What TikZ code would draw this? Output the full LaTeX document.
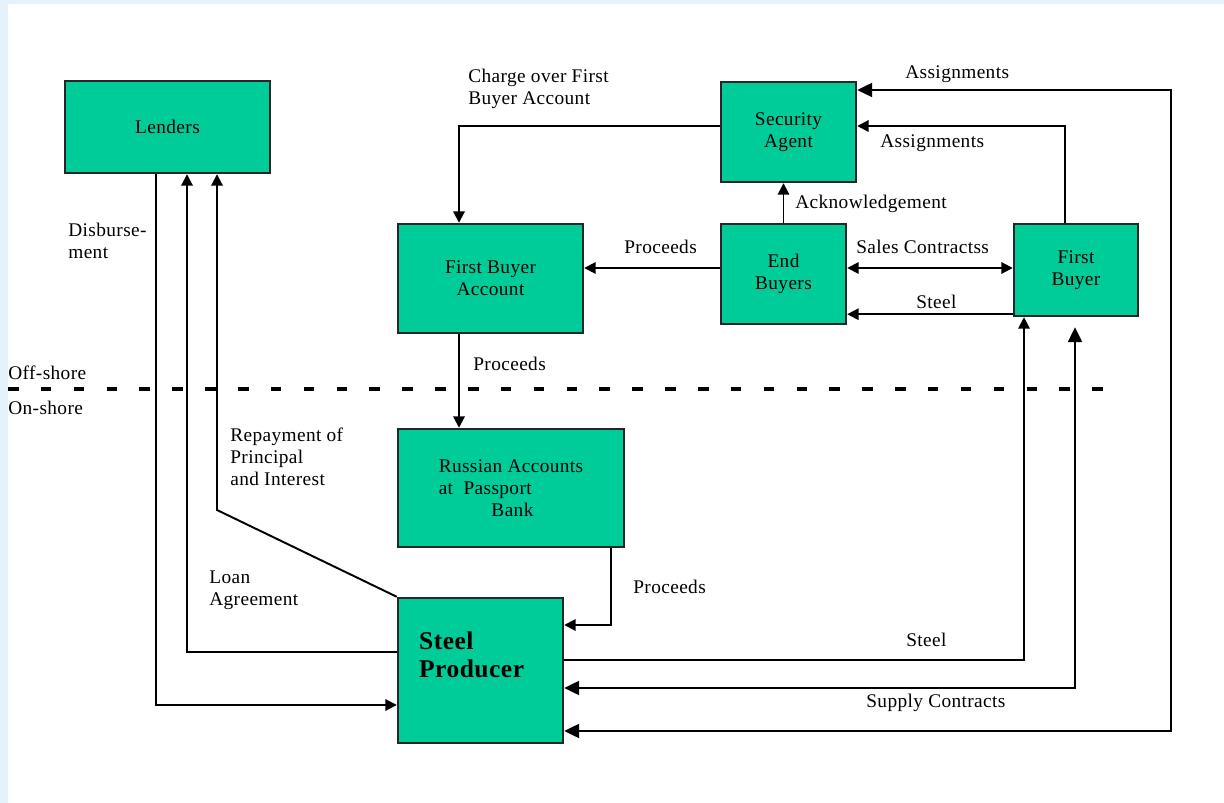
\documentclass[tikz,border=0pt]{standalone}
\usepackage{fontspec}
\setmainfont[LetterSpace=2]{Liberation Serif}
\usepackage{tikz}
\usetikzlibrary{arrows.meta,calc}

\definecolor{boxgreen}{RGB}{0,204,153}
\definecolor{edgeblue}{RGB}{228,242,252}

\tikzset{
  box/.style={draw=black!85, line width=1.4pt, fill=boxgreen, inner sep=2pt, align=center,
    font=\fontsize{11}{12.5}\selectfont},
  flow/.style={line width=1.1pt, -{Triangle[length=6.5pt,width=6.5pt]}},
  twoway/.style={line width=1.1pt, {Triangle[length=6.5pt,width=6.5pt]}-{Triangle[length=6.5pt,width=6.5pt]}},
  bigway/.style={line width=1.1pt, {Triangle[length=8.5pt,width=8pt]}-{Triangle[length=8.5pt,width=8pt]}},
  tag/.style={inner sep=0pt, anchor=west, align=left, font=\fontsize{11}{12.5}\selectfont},
}

\begin{document}
\begin{tikzpicture}[x=0.02cm, y=-0.02cm]
  % Page and left/top border
  \useasboundingbox (0,0) rectangle (1224,803);
  \fill[edgeblue] (0,0) rectangle (1224,803);
  \fill[white] (8,4) rectangle (1224,803);

  % Boxes
  \node[box, minimum width=4.1cm, minimum height=1.84cm] (lenders) at (167.5,127) {Lenders};
  \node[box, minimum width=2.7cm, minimum height=2cm] (agent) at (788.5,132) {Security\\Agent};
  \node[box, minimum width=2.5cm, minimum height=2cm] (endbuyers) at (783.5,274) {End\\Buyers};
  \node[box, minimum width=3.7cm, minimum height=2.18cm] (fbaccount) at (490.5,278.5) {First Buyer\\Account};
  \node[box, minimum width=2.48cm, minimum height=1.84cm] (firstbuyer) at (1076,270) {First\\Buyer};
  \node[box, align=left, minimum width=4.52cm, minimum height=2.36cm] (russian) at (511,488)
    {Russian Accounts\\at\ \ Passport\\\hspace*{30pt}Bank};
  \node[box, minimum width=3.3cm, minimum height=2.9cm] (producer) at (480.5,670.5) {};
  \node[tag, anchor=north west, font=\fontsize{14.5}{15.5}\selectfont\bfseries] (producertext)
    at ($(producer.north west)+(22,35)$) {Steel\\Producer};

  % Off-shore / on-shore divide
  \draw[line width=1.8pt, dash pattern=on 6pt off 12.7pt] (8,389) -- (1117,389);
  \node[tag] (offshore) at (8,373) {Off-shore};
  \node[tag] (onshore) at (8,408) {On-shore};

  % Lenders and Steel Producer
  \draw[flow] ($(lenders.south)+(-11.5,0)$) |- ($(producer.west)+(0,34.5)$);
  \draw[flow] ($(producer.west)+(0,-18.5)$) -| ($(lenders.south)+(19.5,0)$);
  \coordinate (bend) at (217,510);
  \draw[flow] (producer.north west) -- (bend) -- (bend |- lenders.south);
  \node[tag] (disb) at (68,241) {Disburse-\\ment};
  \node[tag] (repay) at (230,457) {Repayment of\\Principal\\and Interest};
  \node[tag] (loan) at (209,590) {Loan\\Agreement};

  % Off-shore flows
  \draw[flow] ($(agent.west)+(0,-6)$) -| ($(fbaccount.north)+(-31.5,0)$);
  \node[tag] (charge) at (468,89) {Charge over First\\Buyer Account};
  \draw[flow] (endbuyers.west) ++(0,-6) coordinate (p1) -- (p1 -| fbaccount.east);
  \node[tag] (proc1) at (624,247) {Proceeds};
  \draw[flow] (endbuyers.north) -- (endbuyers.north |- agent.south);
  \node[tag] (ack) at (795,204) {Acknowledgement};
  \draw[twoway] (endbuyers.east) ++(0,-6) coordinate (p2) -- (p2 -| firstbuyer.west);
  \node[tag] (sales) at (856,247) {Sales Contractss};
  \draw[flow] (firstbuyer.south west) ++(0,-3) coordinate (p3) -- (p3 -| endbuyers.east);
  \node[tag] (steel1) at (916,302) {Steel};
  \draw[flow] ($(firstbuyer.north)+(-11,0)$) |- ($(agent.east)+(0,-6)$);
  \node[tag] (assign1) at (880,143) {Assignments};

  % Flows across the divide
  \draw[flow] (fbaccount.south) ++(-31.5,0) coordinate (p4) -- (p4 |- russian.north);
  \node[tag] (proc2) at (473,364) {Proceeds};
  \draw[flow] ($(russian.south)+(100,0)$) |- ($(producer.east)+(0,-45.5)$);
  \node[tag] (proc3) at (633,587) {Proceeds};
  \draw[flow] ($(producer.east)+(0,-10.5)$) -| ($(firstbuyer.south)+(-52,0)$);
  \node[tag] (steel2) at (906,640) {Steel};
  \draw[bigway] ($(producer.east)+(0,17.5)$) -| ($(firstbuyer.south)+(-1,10)$);
  \node[tag] (supply) at (866,703) {Supply Contracts};
  \coordinate (outer) at (1171,90);
  \draw[bigway] ($(producer.east)+(0,60.5)$) -| (outer) -- (outer -| agent.east);
  \node[tag] (assign2) at (905,74) {Assignments};
\end{tikzpicture}
\end{document}
